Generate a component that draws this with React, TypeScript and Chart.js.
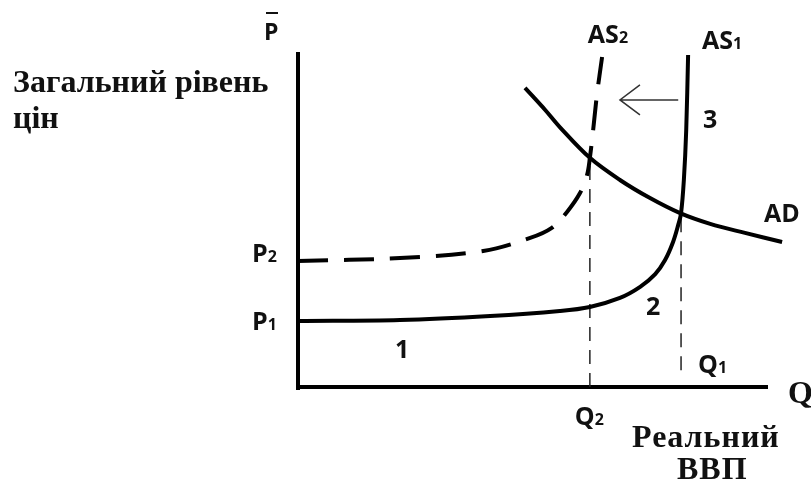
import React, { useEffect, useRef } from "react";
import { Chart, registerables } from "chart.js";

Chart.register(...registerables);

// Scale ranges (abstract units)
const Q_MIN = 0;
const Q_MAX = 10;
const P_MIN = 0;
const P_MAX = 10;

// AS1 (solid)
const as1Q = [0, 2.17, 4.09, 5.57, 6.21, 6.85, 7.28, 7.6, 7.81, 7.98, 8.09, 8.15, 8.21, 8.26, 8.3];
const as1P = [1.97, 2.0, 2.12, 2.27, 2.39, 2.66, 2.99, 3.37, 3.79, 4.33, 4.84, 5.19, 6.18, 7.67, 9.91];

// AS2 (dashed)
const as2Q = [0, 2.17, 3.94, 4.94, 5.4, 5.72, 6.0, 6.15, 6.21, 6.28, 6.36, 6.47];
const as2P = [3.76, 3.85, 4.06, 4.45, 4.75, 5.22, 5.79, 6.33, 6.84, 7.67, 8.72, 9.85];

// AD
const adQ = [4.83, 5.26, 5.57, 6.21, 6.85, 7.49, 8.13, 8.77, 9.51, 10.3];
const adP = [8.93, 8.27, 7.76, 6.84, 6.18, 5.64, 5.19, 4.87, 4.6, 4.33];

// Equilibrium levels
const P1 = 1.97;
const P2 = 3.76;
const Q1 = 8.15;
const Q2 = 6.21;
const Q1_TOP = 5.19;
const Q2_TOP = 6.84;
const Q1_BOTTOM = 0.5;

// Shift arrow (from AS1 toward AS2)
const ARROW_FROM_Q = 8.09;
const ARROW_TO_Q = 6.85;
const ARROW_P = 8.57;

const zip = (xs: number[], ys: number[]) => xs.map((x, i) => ({ x, y: ys[i] }));

const SANS = "'Open Sans', 'Liberation Sans', sans-serif";
const SERIF = "'Liberation Serif', 'DejaVu Serif', serif";

export default function App() {
  const ref = useRef<HTMLCanvasElement | null>(null);

  useEffect(() => {
    const canvas = ref.current;
    if (!canvas) return;

    const decor = {
      id: "decor",
      beforeDatasetsDraw(chart: any) {
        const ctx = chart.ctx as CanvasRenderingContext2D;
        const xs = chart.scales.x;
        const ys = chart.scales.y;
        const x0 = xs.getPixelForValue(Q_MIN);
        const x1 = xs.getPixelForValue(Q_MAX);
        const y0 = ys.getPixelForValue(P_MIN);
        const y1 = ys.getPixelForValue(P_MAX);
        ctx.save();
        ctx.strokeStyle = "#000";
        ctx.lineWidth = 4;
        ctx.lineCap = "butt";
        ctx.beginPath();
        ctx.moveTo(x0, y1);
        ctx.lineTo(x0, y0 + 3);
        ctx.moveTo(x0 - 2, y0);
        ctx.lineTo(x1, y0);
        ctx.stroke();
        ctx.restore();
      },
      afterDatasetsDraw(chart: any) {
        const ctx = chart.ctx as CanvasRenderingContext2D;
        const xs = chart.scales.x;
        const ys = chart.scales.y;
        const X = (v: number) => xs.getPixelForValue(v);
        const Y = (v: number) => ys.getPixelForValue(v);
        ctx.save();

        // arrow
        const ax0 = X(ARROW_FROM_Q);
        const ax1 = X(ARROW_TO_Q);
        const ay = Y(ARROW_P);
        ctx.strokeStyle = "#333";
        ctx.lineWidth = 1.5;
        ctx.beginPath();
        ctx.moveTo(ax0, ay);
        ctx.lineTo(ax1, ay);
        ctx.moveTo(ax1 + 20, ay - 15);
        ctx.lineTo(ax1, ay);
        ctx.lineTo(ax1 + 20, ay + 15);
        ctx.stroke();

        ctx.fillStyle = "#111";
        ctx.textBaseline = "alphabetic";
        ctx.textAlign = "left";

        const sub = (main: string, s: string, x: number, y: number, size = 25) => {
          ctx.font = `bold ${size}px ${SANS}`;
          ctx.fillText(main, x, y);
          const w = ctx.measureText(main).width;
          if (s) {
            ctx.font = `bold ${Math.round(size * 0.62)}px ${SANS}`;
            ctx.fillText(s, x + w, y);
          }
        };

        // P with overbar
        const xAxisPx = X(Q_MIN);
        sub("P", "", xAxisPx - 34, 40, 23);
        ctx.fillRect(xAxisPx - 32, 12, 12, 2);

        sub("AS", "2", X(Q2) - 2, 43);
        sub("AS", "1", X(Q1) + 21, 49);
        sub("3", "", X(Q1) + 22, 128);
        sub("AD", "", X(Q_MAX) - 4, 222);
        sub("P", "2", xAxisPx - 46, Y(P2) + 1);
        sub("P", "1", xAxisPx - 46, Y(P1) + 9);
        sub("1", "", 395, 358);
        sub("2", "", X(Q1) - 35, 315);
        sub("Q", "1", X(Q1) + 17, 373);
        sub("Q", "2", X(Q2) - 15, 425);

        ctx.font = `bold 32px ${SERIF}`;
        ctx.fillText("Загальний рівень", 13, 92);
        ctx.fillText("цін", 13, 128);
        ctx.fillText("Q", X(Q_MAX) + 20, 403);
        (ctx as any).letterSpacing = "1px";
        ctx.fillText("Реальний", 632, 447);
        ctx.fillText("ВВП", 677, 479);
        (ctx as any).letterSpacing = "0px";
        ctx.restore();
      },
    };

    const base = {
      showLine: true,
      pointRadius: 0,
      pointHoverRadius: 0,
      fill: false,
      clip: false as any,
      borderColor: "#000",
      borderCapStyle: "butt" as const,
    };

    const chart = new Chart(canvas, {
      type: "scatter",
      data: {
        datasets: [
          { ...base, label: "AS1", data: zip(as1Q, as1P), borderWidth: 4, tension: 0.35 },
          { ...base, label: "AS2", data: zip(as2Q, as2P), borderWidth: 4, tension: 0.35, borderDash: [30, 16] },
          { ...base, label: "AD", data: zip(adQ, adP), borderWidth: 4, tension: 0.35 },
          { ...base, label: "Q2", data: [{ x: Q2, y: P_MIN }, { x: Q2, y: Q2_TOP }], borderWidth: 1.5, borderColor: "#222", borderDash: [14, 9] },
          { ...base, label: "Q1", data: [{ x: Q1, y: Q1_BOTTOM }, { x: Q1, y: Q1_TOP }], borderWidth: 1.5, borderColor: "#222", borderDash: [14, 9] },
        ],
      },
      options: {
        animation: false,
        responsive: false,
        events: [],
        layout: { padding: { left: 298, right: 43, top: 52, bottom: 94 } },
        plugins: { legend: { display: false }, tooltip: { enabled: false } },
        scales: {
          x: { type: "linear", min: Q_MIN, max: Q_MAX, display: false },
          y: { type: "linear", min: P_MIN, max: P_MAX, display: false },
        },
      },
      plugins: [decor],
    });
    return () => chart.destroy();
  }, []);

  return (
    <div style={{ position: "fixed", left: 0, top: 0, width: 811, height: 481, background: "#fff" }}>
      <canvas ref={ref} width={811} height={481} style={{ display: "block", width: 811, height: 481 }} />
    </div>
  );
}
